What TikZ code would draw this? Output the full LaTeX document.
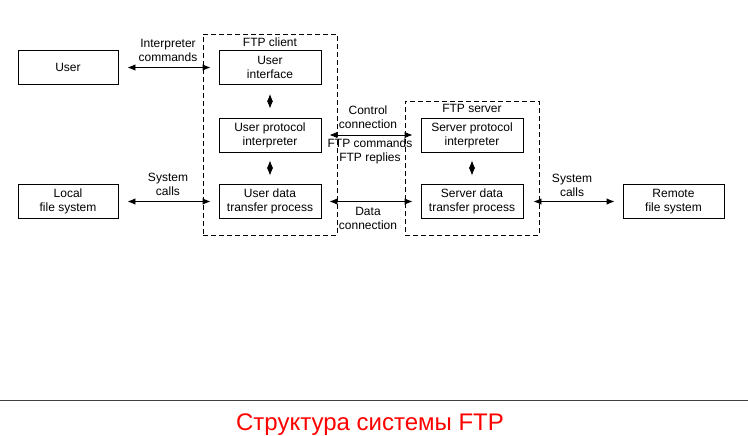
\documentclass[tikz,border=0pt]{standalone}
\usepackage{fontspec}
\setmainfont{Liberation Sans}
\usetikzlibrary{arrows.meta}
\begin{document}
\begin{tikzpicture}[x=1pt,y=-1pt,
  box/.style={draw,line width=0.9pt,minimum width=102pt,minimum height=34pt,inner sep=0pt,align=center,font=\fontsize{12}{14}\selectfont},
  lbl/.style={align=center,inner sep=0pt,font=\fontsize{12}{14}\selectfont},
  grp/.style={draw,dash pattern=on 5pt off 3pt,line width=0.9pt,inner sep=0pt},
  biarrow/.style={{Latex[length=8pt,width=6.5pt]}-{Latex[length=8pt,width=6.5pt]},line width=0.9pt},
  vbiarrow/.style={{Latex[length=7.5pt,width=6pt]}-{Latex[length=7.5pt,width=6pt]},line width=0.9pt}]
\useasboundingbox[fill=white] (0,0) rectangle (748,436);
% groups
\node[grp,minimum width=134pt,minimum height=201pt] (client) at (270,134.5) {};
\node[grp,minimum width=134pt,minimum height=134pt] (server) at (472,168) {};
\node[lbl] (clientlbl) at (270,42) {FTP client};
\node[lbl] (serverlbl) at (472,108.5) {FTP server};
% boxes
\node[box,minimum width=100pt] (user) at (68,67.5) {User};
\node[box,minimum width=100pt] (local) at (68,201.5) {Local\\file system};
\node[box] (ui) at (270,67.5) {User\\interface};
\node[box] (upi) at (270,135) {User protocol\\interpreter};
\node[box] (udtp) at (270,201.5) {User data\\transfer process};
\node[box] (spi) at (472,135) {Server protocol\\interpreter};
\node[box] (sdtp) at (472,201.5) {Server data\\transfer process};
\node[box,minimum width=101pt] (remote) at (673.5,201.5) {Remote\\file system};
% labels
\node[lbl] (intercmd) at (168,50.5) {Interpreter\\commands};
\node[lbl] (sys1) at (168,184.5) {System\\calls};
\node[lbl] (ctrl) at (368,117) {Control\\connection};
\node[lbl] (ftpcmd) at (370,151.5) {FTP commands\\FTP replies};
\node[lbl] (dataconn) at (368,218.5) {Data\\connection};
\node[lbl] (sys2) at (572,185) {System\\calls};
% arrows
\draw[biarrow] ([xshift=9pt]user.east) -- ([xshift=-8pt]ui.west);
\draw[biarrow] ([xshift=9pt]local.east) -- ([xshift=-8pt]udtp.west);
\draw[biarrow] ([xshift=8pt]upi.east) -- ([xshift=-8pt]spi.west);
\draw[biarrow] ([xshift=8pt]udtp.east) -- ([xshift=-8pt]sdtp.west);
\draw[biarrow] ([xshift=10pt]sdtp.east) -- ([xshift=-8pt]remote.west);
\draw[vbiarrow] ([yshift=-9pt]ui.south) -- ([yshift=9pt]upi.north);
\draw[vbiarrow] ([yshift=-8pt]upi.south) -- ([yshift=8.5pt]udtp.north);
\draw[vbiarrow] ([yshift=-8pt]spi.south) -- ([yshift=8.5pt]sdtp.north);
% rule and caption
\coordinate (rl) at (0,400.5);
\coordinate (rr) at (748,400.5);
\draw[line width=1.5pt,black!75] (rl) -- (rr);
\node[anchor=base,inner sep=0pt,text=red,font=\fontsize{24}{28}\selectfont] (caption) at (370,430) {Структура системы FTP};
\end{tikzpicture}
\end{document}
